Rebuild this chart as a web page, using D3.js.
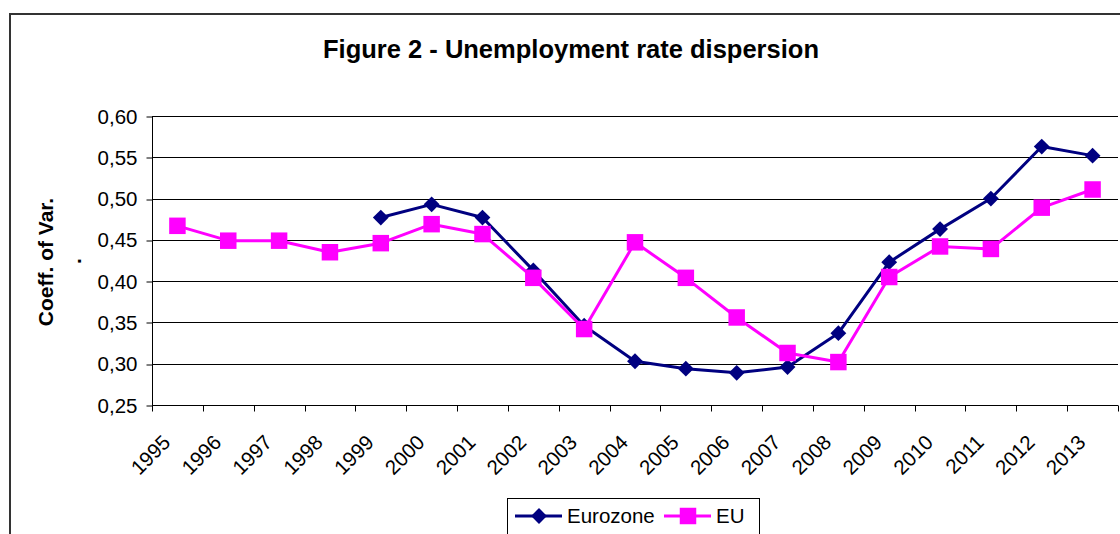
<!DOCTYPE html>
<html>
<head>
<meta charset="utf-8">
<script src="https://cdn.jsdelivr.net/npm/d3@7"></script>
<style>
  html, body { margin: 0; padding: 0; background: #fff; }
  svg { display: block; font-family: Arial, "Liberation Sans", sans-serif; }
</style>
</head>
<body>
<svg id="chart" width="1120" height="534"></svg>
<script>
// Coefficient of variation of national unemployment rates
const years = ["1995","1996","1997","1998","1999","2000","2001","2002","2003","2004",
               "2005","2006","2007","2008","2009","2010","2011","2012","2013"];
const eurozone = [null, null, null, null, 0.477, 0.493, 0.477, 0.413, 0.346, 0.303,
                  0.294, 0.289, 0.296, 0.337, 0.423, 0.463, 0.500, 0.563, 0.552];
const eu = [0.467, 0.449, 0.449, 0.435, 0.446, 0.469, 0.457, 0.404, 0.342, 0.447,
            0.404, 0.356, 0.313, 0.302, 0.405, 0.442, 0.439, 0.489, 0.511];
const yTicks = [0.25, 0.30, 0.35, 0.40, 0.45, 0.50, 0.55, 0.60];
const seriesNames = ["Eurozone", "EU"];

const svg = d3.select("#chart");
const W = 1120, H = 534;
const plot = { left: 152, right: 1118, top: 116, bottom: 405 };

// outer frame (left and top edges visible within the canvas)
svg.append("path")
  .attr("d", `M10,${H + 2} L10,14 L${W + 2},14`)
  .attr("fill", "none").attr("stroke", "#333").attr("stroke-width", 2);

svg.append("text")
  .attr("x", 571).attr("y", 57.5)
  .attr("text-anchor", "middle")
  .attr("font-size", 25.5).attr("font-weight", "bold")
  .text("Figure 2 - Unemployment rate dispersion");

const x = d3.scaleBand().domain(years).range([plot.left, plot.right]).padding(0);
const y = d3.scaleLinear().domain([0.25, 0.60]).range([plot.bottom, plot.top]);
const fmt = v => d3.format(".2f")(v).replace(".", ",");

// horizontal gridlines
svg.append("g").selectAll("line")
  .data(yTicks.filter(t => t > 0.25))
  .join("line")
  .attr("x1", plot.left).attr("x2", plot.right)
  .attr("y1", d => Math.round(y(d)) + 0.5).attr("y2", d => Math.round(y(d)) + 0.5)
  .attr("stroke", "#000").attr("stroke-width", 1);

// y axis
const yAxis = svg.append("g")
  .attr("transform", `translate(${plot.left + 0.5},0.5)`)
  .call(d3.axisLeft(y).tickValues(yTicks).tickFormat(fmt).tickSize(6).tickPadding(9))
  .call(g => g.select(".domain").attr("d", `M0,${Math.round(plot.top)}V${plot.bottom}`));
yAxis.selectAll(".tick line").attr("y1", 0).attr("y2", 0)
  .attr("transform", d => `translate(0,${Math.round(y(d)) - y(d)})`);
yAxis.selectAll("text").attr("font-size", 20.5).attr("fill", "#000")
  .attr("font-family", "Arial, 'Liberation Sans', sans-serif");
yAxis.selectAll("path, line").attr("stroke", "#000");

// x axis: ticks at category boundaries
const xAxisG = svg.append("g").attr("transform", `translate(0,${plot.bottom + 0.5})`);
xAxisG.append("line").attr("x1", plot.left).attr("x2", plot.right)
  .attr("stroke", "#000");
const bounds = years.map(d => x(d)).concat([x(years[years.length - 1]) + x.bandwidth()]);
xAxisG.selectAll("line.tk").data(bounds).join("line").attr("class", "tk")
  .attr("x1", d => Math.round(d) + 0.5).attr("x2", d => Math.round(d) + 0.5)
  .attr("y1", 0).attr("y2", 6).attr("stroke", "#000");
xAxisG.selectAll("text").data(years).join("text")
  .attr("transform", d => `translate(${x(d) + x.bandwidth() / 2 - 11},${438 - plot.bottom}) rotate(-45)`)
  .attr("text-anchor", "end").attr("dy", "0.36em")
  .attr("font-size", 20.5)
  .text(d => d);

// y axis title
svg.append("text")
  .attr("transform", "translate(53,262) rotate(-90)")
  .attr("text-anchor", "middle").attr("font-size", 21).attr("font-weight", "bold")
  .text("Coeff. of Var.");
svg.append("text")
  .attr("transform", "translate(81,261) rotate(-90)")
  .attr("text-anchor", "middle").attr("font-size", 21).attr("font-weight", "bold")
  .text(".");

const cx = d => x(d) + x.bandwidth() / 2;
const diamond = d3.symbol().type(d3.symbolDiamond2).size(160);
const square = d3.symbol().type(d3.symbolSquare).size(272);

function drawSeries(values, color, sym) {
  const pts = years.map((yr, i) => ({ yr, v: values[i] })).filter(p => p.v != null);
  svg.append("path").datum(pts)
    .attr("fill", "none").attr("stroke", color).attr("stroke-width", 3)
    .attr("stroke-linejoin", "round")
    .attr("d", d3.line().x(p => cx(p.yr)).y(p => y(p.v)));
  svg.append("g").selectAll("path").data(pts).join("path")
    .attr("transform", p => `translate(${cx(p.yr)},${y(p.v)})`)
    .attr("d", sym).attr("fill", color);
}
drawSeries(eurozone, "#000080", diamond);
drawSeries(eu, "#ff00ff", square);

// legend
const lg = svg.append("g");
lg.append("rect").attr("x", 507.5).attr("y", 498.5).attr("width", 252).attr("height", 60)
  .attr("fill", "#fff").attr("stroke", "#000");
const items = [
  { name: seriesNames[0], color: "#000080", sym: diamond, x0: 515 },
  { name: seriesNames[1], color: "#ff00ff", sym: square, x0: 664 }
];
items.forEach(it => {
  lg.append("line").attr("x1", it.x0).attr("x2", it.x0 + 47).attr("y1", 516).attr("y2", 516)
    .attr("stroke", it.color).attr("stroke-width", 3);
  lg.append("path").attr("transform", `translate(${it.x0 + 24},516)`)
    .attr("d", it.sym).attr("fill", it.color);
  lg.append("text").attr("x", it.x0 + 52).attr("y", 523).attr("font-size", 20.5).text(it.name);
});
</script>
</body>
</html>
